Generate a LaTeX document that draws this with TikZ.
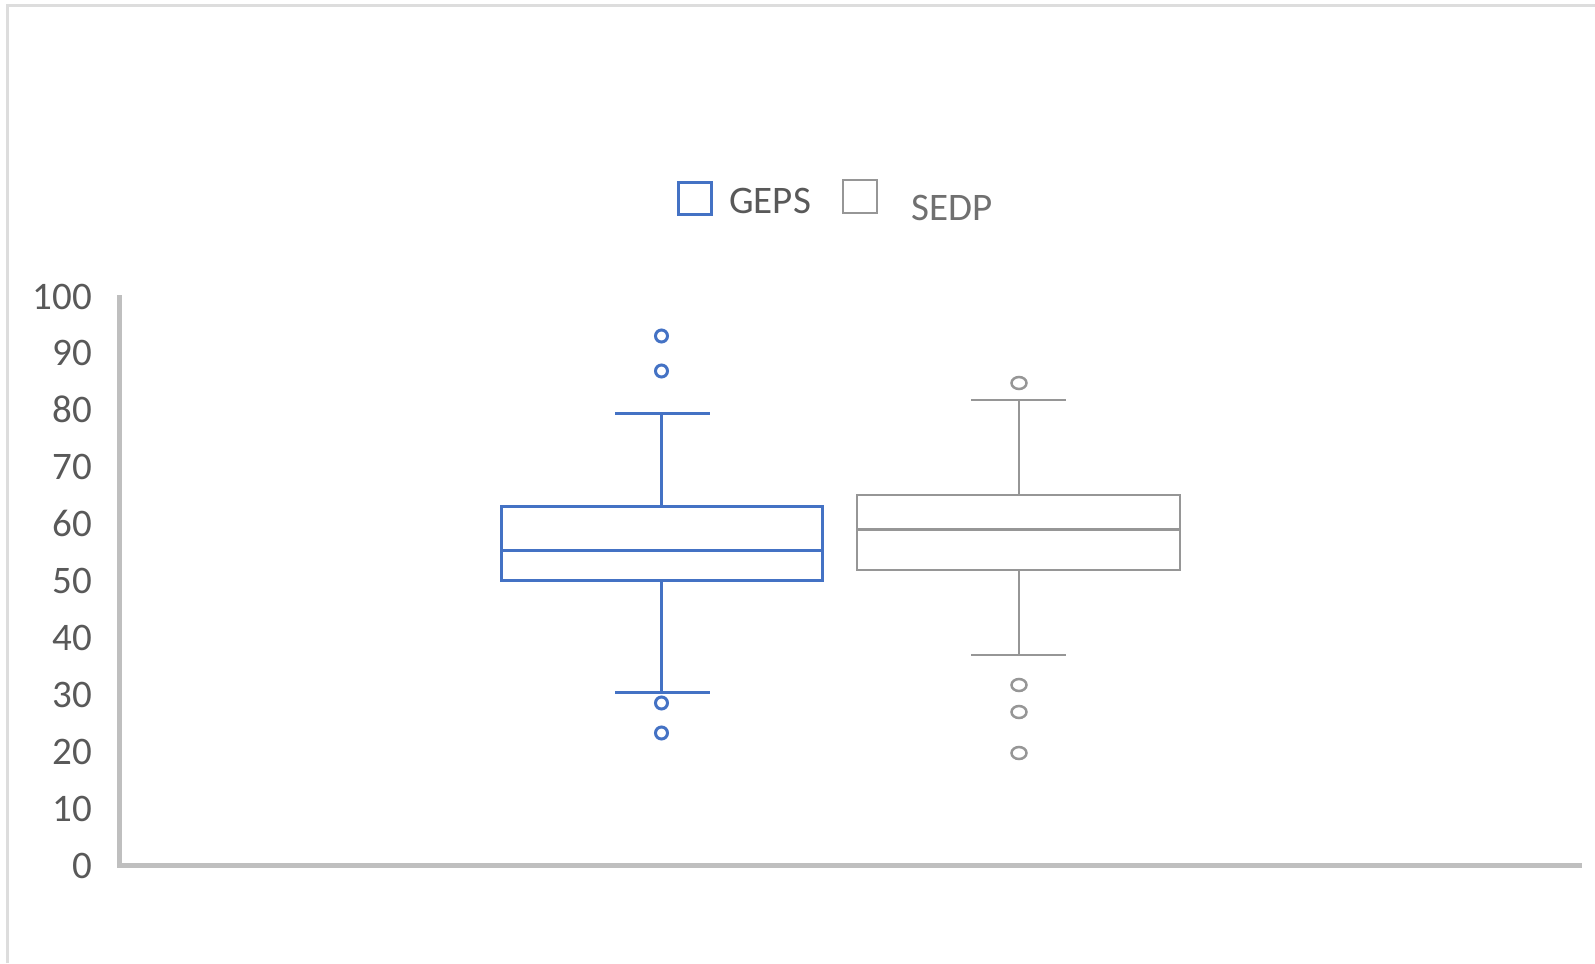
\documentclass[tikz,border=0pt]{standalone}
\usepackage{fontspec}
\setmainfont{Carlito}
\definecolor{geps}{RGB}{68,114,196}
\definecolor{sedp}{RGB}{150,150,150}
\definecolor{axisc}{RGB}{191,191,191}
\definecolor{txt}{RGB}{89,89,89}
\definecolor{txtb}{RGB}{112,112,112}
\definecolor{framec}{RGB}{221,221,221}
\tikzset{
  lbl/.style={font=\fontsize{39bp}{46bp}\selectfont, text=txt, inner sep=0pt},
  gepsline/.style={draw=geps, line width=3bp},
  sedpline/.style={draw=sedp, line width=2.5bp},
}
\begin{document}
\begin{tikzpicture}[x=1bp,y=-1bp]
\useasboundingbox (0,0) rectangle (1595,963);
% frame
\draw[framec, line width=3bp] (7,963) -- (7,5) -- (1595,5);
% axes
\draw[axisc, line width=5bp] (119,295) -- (119,865) -- (1582,865);
% tick labels
\foreach \v in {0,10,...,100}{
  \node[lbl, anchor=base east] (t\v) at (92,{865-5.69*\v+13}) {\v};
}
% legend
\draw[gepsline] (678,182) rectangle (711,214);
\node[lbl, anchor=base west] (lgeps) at (729,213) {GEPS};
\draw[sedpline] (843,180) rectangle (877,213);
\node[lbl, anchor=base west, text=txtb] (lsedp) at (911,220) {SEDP};
% GEPS box
\draw[gepsline] (501,506) rectangle (822,580);
\draw[gepsline] (501,550) -- (822,550);
\draw[gepsline] (661.5,506) -- (661.5,413);
\draw[gepsline] (615,413) -- (710,413);
\draw[gepsline] (661.5,580) -- (661.5,692);
\draw[gepsline] (615,692) -- (710,692);
\foreach \y in {336,371,703,733}{
  \draw[gepsline] (661.5,\y) circle [radius=6];
}
% SEDP box
\draw[sedpline] (857,495) rectangle (1180,570);
\draw[sedpline] (857,529.5) -- (1180,529.5);
\draw[sedpline] (1019,495) -- (1019,400);
\draw[sedpline] (971,400) -- (1066,400);
\draw[sedpline] (1019,570) -- (1019,655);
\draw[sedpline] (971,655) -- (1066,655);
\foreach \y in {383,685,712,753}{
  \draw[sedpline] (1019,\y) ellipse [x radius=7.5, y radius=6];
}
\end{tikzpicture}
\end{document}
